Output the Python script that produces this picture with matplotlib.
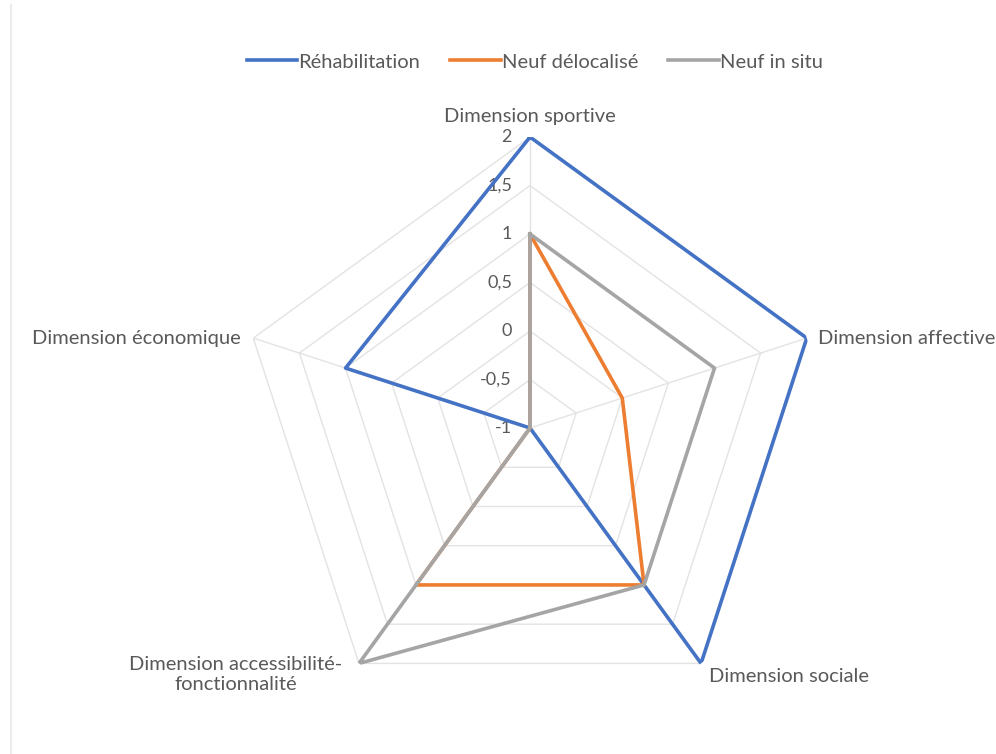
import numpy as np
import matplotlib
matplotlib.use("Agg")
import matplotlib.pyplot as plt
from matplotlib.lines import Line2D

categories = ["Dimension sportive", "Dimension affective", "Dimension sociale",
              "Dimension accessibilité-\nfonctionnalité", "Dimension économique"]
rehabilitation = [2, 2, 2, -1, 1]
neuf_delocalise = [1, 0, 1, 1, -1]
neuf_in_situ = [1, 1, 1, 2, -1]
series_names = ["Réhabilitation", "Neuf délocalisé", "Neuf in situ"]
tick_values = [-1, -0.5, 0, 0.5, 1, 1.5, 2]
tick_labels = ["-1", "-0,5", "0", "0,5", "1", "1,5", "2"]

colors = ["#4472C4", "#ED7D31", "#A5A5A5"]
text_color = "#595959"
grid_color = "#E3E3E3"
plt.rcParams['font.family'] = ['Lato', 'DejaVu Sans']

fig = plt.figure(figsize=(9.96, 7.54), dpi=100)
ax = fig.add_axes([0.2400, 0.0464, 0.5843, 0.7719], projection='polar')
ax.set_theta_offset(np.pi / 2)
ax.set_theta_direction(-1)
ax.set_ylim(-1, 2)
ax.grid(False)
ax.set_xticks([])
ax.set_yticks([])
ax.spines['polar'].set_visible(False)
ax.patch.set_alpha(0)

# faint chart border on the left edge
fig.add_artist(Line2D([0.011, 0.011], [0.0, 0.993], transform=fig.transFigure,
                      color="#EBEBEB", lw=1.5))

n = len(categories)
angles = np.linspace(0, 2 * np.pi, n, endpoint=False)
closed = np.concatenate([angles, angles[:1]])

# polygon gridlines
for v in tick_values[1:]:
    ax.plot(closed, [v] * (n + 1), color=grid_color, lw=1.0, zorder=1)
for a in angles:
    ax.plot([a, a], [-1, 2], color=grid_color, lw=1.0, zorder=1)

handles = []
for vals, name, c in zip([rehabilitation, neuf_delocalise, neuf_in_situ], series_names, colors):
    v = np.array(vals + vals[:1], dtype=float)
    h, = ax.plot(closed, v, color=c, lw=2.6, solid_joinstyle='round', zorder=3, label=name)
    handles.append(h)

# tick labels along top axis
for v, lab in zip(tick_values, tick_labels):
    ax.annotate(lab, xy=(0, v), xytext=(-18, 0), textcoords='offset pixels',
                ha='right', va='center', fontsize=13, color=text_color, zorder=2)

# category labels
label_specs = [
    dict(xytext=(0, 12), ha='center', va='bottom'),
    dict(xytext=(11, 0), ha='left', va='center'),
    dict(xytext=(8, -5), ha='left', va='top'),
    dict(xytext=(-17, 7), ha='right', va='top'),
    dict(xytext=(-13, 0), ha='right', va='center'),
]
for a, cat, spec in zip(angles, categories, label_specs):
    ax.annotate(cat, xy=(a, 2), xytext=spec['xytext'], textcoords='offset pixels',
                ha=spec['ha'], va=spec['va'], multialignment='center',
                fontsize=14.5, color=text_color, annotation_clip=False)

fig.legend(handles=handles, labels=series_names, loc='center', ncol=3,
           bbox_to_anchor=(0.537, 0.9178), frameon=False, fontsize=14.5,
           handlelength=2.5, handletextpad=0.05, columnspacing=1.5,
           labelcolor=text_color)

fig.savefig("out.png", dpi=100, facecolor='white')
